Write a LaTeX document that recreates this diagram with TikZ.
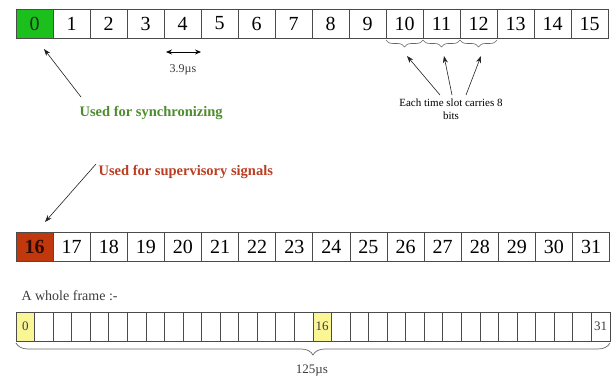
\documentclass[tikz,border=0pt]{standalone}
\usepackage{fontspec}
\setmainfont{Liberation Serif}
\usetikzlibrary{arrows.meta,decorations.pathreplacing,calc}
\definecolor{gridgray}{RGB}{75,75,75}
\definecolor{syncfill}{RGB}{28,192,28}
\definecolor{supfill}{RGB}{192,56,12}
\definecolor{slotyellow}{RGB}{250,246,150}
\definecolor{syncgreen}{RGB}{78,140,45}
\definecolor{supred}{RGB}{185,62,35}
\definecolor{softtext}{RGB}{60,60,60}
\begin{document}
\begin{tikzpicture}[x=1pt,y=-1pt,
  cell/.style={draw=gridgray,line width=0.8pt,inner sep=0pt,outer sep=0pt,
    minimum height=29pt,font=\fontsize{20}{20}\selectfont},
  wide/.style={cell,minimum width=37pt},
  wide2/.style={cell,minimum width=37.1pt},
  narrow/.style={cell,minimum width=18.56pt,font=\fontsize{13}{13}\selectfont,text=softtext},
  arr/.style={draw=gray!25!black,line width=0.6pt,-{Stealth[length=7pt,width=5pt]}},
  dblarr/.style={draw=black,line width=0.7pt,{Stealth[length=6pt,width=5pt]}-{Stealth[length=6pt,width=5pt]}},
  smallbrace/.style={draw=gray!80!black,line width=0.6pt,decorate,decoration={brace,amplitude=7pt}},
  bigbrace/.style={draw=gray!80!black,line width=0.7pt,decorate,decoration={brace,amplitude=12pt}},
  note/.style={font=\fontsize{14.5}{14.5}\selectfont\bfseries,anchor=west}
]
\useasboundingbox (0,0) rectangle (613,382);

% first half of the frame: slots 0-15
\node[wide,fill=syncfill,text={rgb,255:red,20;green,50;blue,20}] (a0) at ({16+37*0.5},23.5) {0};
\foreach \i in {1,...,15}
  \node[wide] (a\i) at ({16+37*(\i+0.5)},23.5) {\i};

% second half of the frame: slots 16-31
\node[wide2,fill=supfill,text={rgb,255:red,50;green,10;blue,0},font=\fontsize{20}{20}\selectfont\bfseries] (b16) at ({16+37.1*0.5},246.5) {16};
\foreach \i in {17,...,31}
  \node[wide2] (b\i) at ({16+37.1*(\i-16+0.5)},246.5) {\i};

% slot duration
\coordinate (durL) at ($(a4.south west)+(2,14)$);
\coordinate (durR) at ($(a4.south east)+(0,14)$);
\draw[dblarr] (durL) -- (durR);
\node[font=\fontsize{12}{12}\selectfont,text=softtext] (dur) at (183,70) {3.9µs};

% braces under slots 10-12
\foreach \i in {10,11,12}
  \draw[smallbrace] ($(a\i.south east)+(0,2)$) -- ($(a\i.south west)+(0,2)$);
\node[font=\fontsize{11}{13}\selectfont,align=center,text=black] (slot) at (451,109)
  {Each time slot carries 8\\bits};
\coordinate (h10) at (407,56);
\coordinate (h11) at (444,56);
\coordinate (h12) at (481,56);
\coordinate (s10) at (440,95);
\coordinate (s11) at (452,95);
\coordinate (s12) at (466,95);
\draw[arr] (s10) -- (h10);
\draw[arr] (s11) -- (h11);
\draw[arr] (s12) -- (h12);

% notes for slots 0 and 16
\node[note,text=syncgreen] (sync) at (76,113) {Used for synchronizing};
\node[note,text=supred] (sup) at (95,172) {Used for supervisory signals};
\coordinate (syncTail) at (81,97);
\coordinate (syncHead) at (44,49);
\coordinate (supTail) at (96,164);
\coordinate (supHead) at (45,222);
\draw[arr] (syncTail) -- (syncHead);
\draw[arr] (supTail) -- (supHead);

% the whole frame
\node[anchor=west,font=\fontsize{14}{14}\selectfont,text=softtext] (whole) at (18,296) {A whole frame :-};
\foreach \i in {0,...,31}
  \node[narrow] (c\i) at ({16+18.56*(\i+0.5)},326.5) {};
\node[narrow,fill=slotyellow] at (c0) {0};
\node[narrow,fill=slotyellow] at (c16) {16};
\node[narrow] at (c31) {31};
\draw[bigbrace] ($(c31.south east)+(0,2)$) -- ($(c0.south west)+(0,2)$);
\node[font=\fontsize{13}{13}\selectfont,text=softtext] (total) at (312,371) {125µs};
\end{tikzpicture}
\end{document}
